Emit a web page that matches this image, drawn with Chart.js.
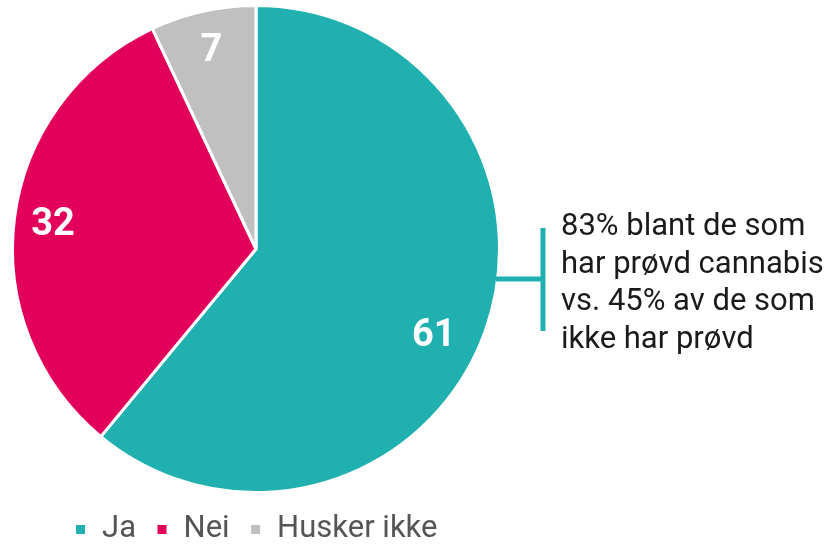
<!DOCTYPE html>
<html>
<head>
<meta charset="utf-8">
<script src="https://cdn.jsdelivr.net/npm/chart.js@4"></script>
<style>
  html, body { margin: 0; padding: 0; background: #ffffff; }
  #wrap { width: 831px; height: 545px; position: relative; }
</style>
</head>
<body>
<div id="wrap"><canvas id="c" width="831" height="545"></canvas></div>
<script>
const categories = ['Ja', 'Nei', 'Husker ikke'];
const values = [61, 32, 7];
const colors = ['#20B0AF', '#E2005A', '#C0C0C0'];
const noteLines = ['83% blant de som', 'har prøvd cannabis', 'vs. 45% av de som', 'ikke har prøvd'];

const FONT = 'Roboto, "Noto Sans", sans-serif';

// where each value label sits: t = fraction along the slice's sweep, r = fraction of radius
const labelPlacement = [{ t: 0.527, r: 0.81 }, { t: 0.5, r: 0.84 }, { t: 0.5, r: 0.84 }];

// white value labels inside each slice
const valueLabels = {
  id: 'valueLabels',
  afterDatasetsDraw(chart) {
    const ctx = chart.ctx;
    const meta = chart.getDatasetMeta(0);
    ctx.save();
    ctx.fillStyle = '#ffffff';
    ctx.font = 'bold 38px ' + FONT;
    ctx.textAlign = 'center';
    ctx.textBaseline = 'middle';
    meta.data.forEach((arc, i) => {
      const p = labelPlacement[i];
      const a = arc.startAngle + (arc.endAngle - arc.startAngle) * p.t;
      const r = arc.outerRadius * p.r;
      ctx.fillText(String(values[i]), arc.x + Math.cos(a) * r, arc.y + Math.sin(a) * r + 2);
    });
    ctx.restore();
  }
};

// bracket callout to the right of the pie
const callout = {
  id: 'callout',
  afterDraw(chart) {
    const ctx = chart.ctx;
    const arc = chart.getDatasetMeta(0).data[0];
    const dy = 30;
    const y = arc.y + dy;
    const xEdge = arc.x + Math.sqrt(arc.outerRadius * arc.outerRadius - dy * dy) - 2;
    const xBar = 543;
    ctx.save();
    ctx.strokeStyle = colors[0];
    ctx.lineWidth = 5;
    ctx.beginPath();
    ctx.moveTo(xEdge, y);
    ctx.lineTo(xBar, y);
    ctx.moveTo(xBar, 228);
    ctx.lineTo(xBar, 331);
    ctx.stroke();
    ctx.fillStyle = '#1a1a1a';
    ctx.font = '31px ' + FONT;
    ctx.textAlign = 'left';
    ctx.textBaseline = 'alphabetic';
    noteLines.forEach((t, i) => ctx.fillText(t, 561, 235 + i * 37.7));
    ctx.restore();
  }
};

new Chart(document.getElementById('c'), {
  type: 'pie',
  data: {
    labels: categories,
    datasets: [{
      data: values,
      backgroundColor: colors,
      borderColor: '#ffffff',
      borderWidth: 3
    }]
  },
  options: {
    responsive: false,
    animation: false,
    layout: { padding: { top: 4, right: 319, left: 0, bottom: -10 } },
    plugins: {
      tooltip: { enabled: false },
      legend: {
        position: 'bottom',
        labels: {
          boxWidth: 12,
          boxHeight: 12,
          padding: 20,
          color: '#555555',
          font: { family: FONT, size: 31 }
        }
      }
    }
  },
  plugins: [valueLabels, callout]
});
</script>
</body>
</html>
